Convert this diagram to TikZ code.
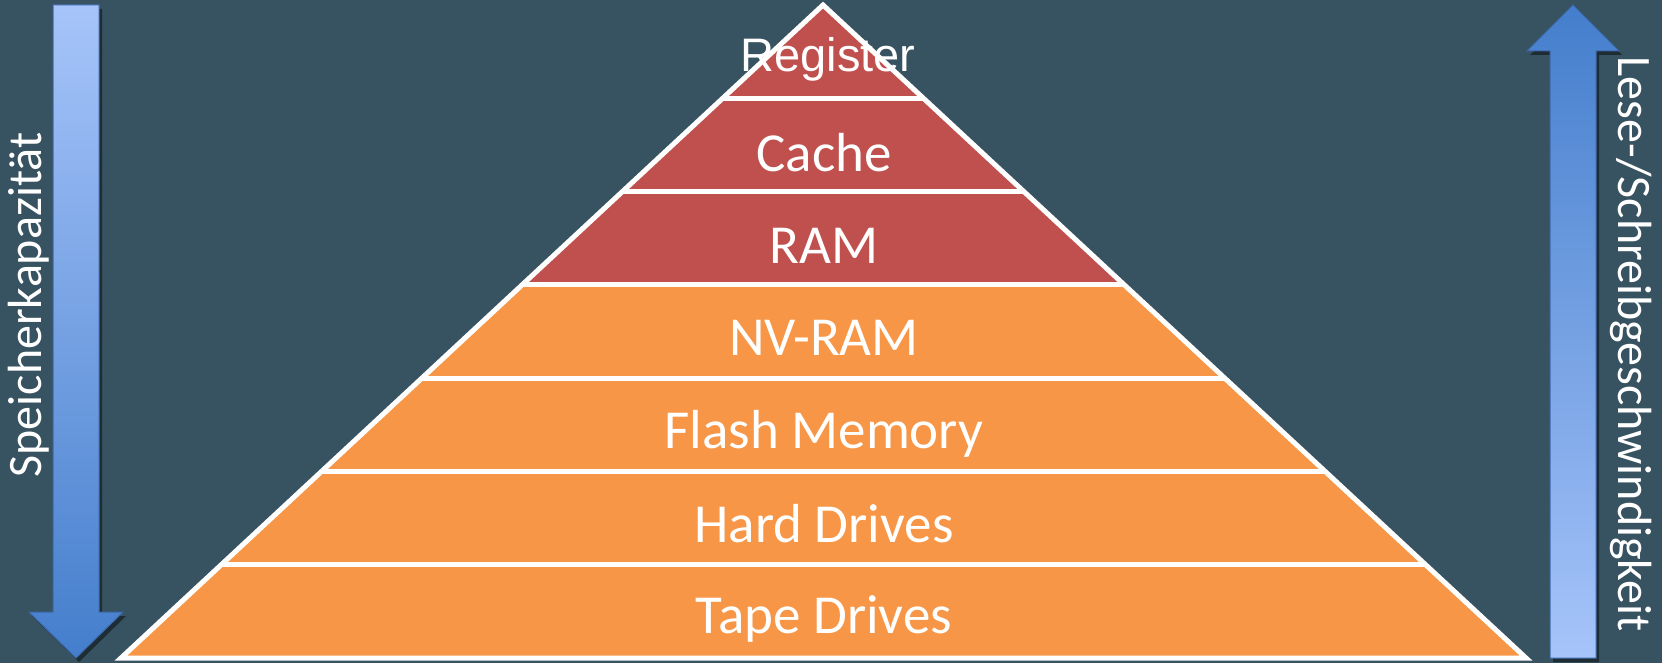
\documentclass[tikz,border=0pt]{standalone}
\usepackage{fontspec}
\setmainfont{Carlito}
\newfontfamily\regfont{Liberation Sans}
\definecolor{bg}{RGB}{55,82,96}
\definecolor{redband}{RGB}{192,80,77}
\definecolor{orgband}{RGB}{247,150,70}
\definecolor{arrowlight}{RGB}{166,196,250}
\definecolor{arrowdark}{RGB}{68,126,204}
\definecolor{arrowedge}{RGB}{62,104,172}
\begin{document}
\begin{tikzpicture}[x=1pt,y=-1pt,
  edge/.style={draw=white,line width=5pt,line join=miter},
  lbl/.style={text=white,font=\fontsize{55}{60}\selectfont,anchor=base,inner sep=0pt},
  side/.style={text=white,font=\fontsize{48}{52}\selectfont,inner sep=0pt},
  arrowbody/.style={draw=arrowedge,line width=1pt},
  arrowshadow/.style={fill=black,opacity=.45}]
\fill[bg] (0,0) rectangle (1662,663);
\useasboundingbox (0,0) rectangle (1662,663);
% bands
\foreach \k/\col in {0/redband,1/redband,2/redband,3/orgband,4/orgband,5/orgband,6/orgband}{
  \pgfmathsetmacro\ya{5+\k*93.2857}
  \pgfmathsetmacro\yb{5+(\k+1)*93.2857}
  \pgfmathsetmacro\wa{(\ya-5)*1.07351}
  \pgfmathsetmacro\wb{(\yb-5)*1.07351}
  \fill[\col] (823-\wa,\ya) -- (823+\wa,\ya) -- (823+\wb,\yb) -- (823-\wb,\yb) -- cycle;
}
% separators
\foreach \k in {1,...,6}{
  \pgfmathsetmacro\ya{5+\k*93.2857}
  \pgfmathsetmacro\wa{(\ya-5)*1.07351}
  \draw[edge] (823-\wa,\ya) -- (823+\wa,\ya);
}
% outline
\draw[edge] (823,5) -- (1526,658) -- (121,658) -- cycle;
% labels
\node[lbl,font=\regfont\fontsize{47}{50}\selectfont] (reg) at (828,72) {Register};
\node[lbl] (cache) at (824,172) {Cache};
\node[lbl] (ram) at (824,263) {RAM};
\node[lbl] (nvram) at (824,355) {NV-RAM};
\node[lbl] (flash) at (824,448) {Flash Memory};
\node[lbl] (hdd) at (824,542) {Hard Drives};
\node[lbl] (tape) at (824,633) {Tape Drives};
% left arrow
\fill[arrowshadow,xshift=3pt,yshift=-4pt] (53,5) -- (99,5) -- (99,612) -- (123,612) -- (76,658) -- (29,612) -- (53,612) -- cycle;
\path[arrowbody,top color=arrowlight,bottom color=arrowdark] (53,5) -- (99,5) -- (99,612) -- (123,612) -- (76,658) -- (29,612) -- (53,612) -- cycle;
% right arrow
\fill[arrowshadow,xshift=3pt,yshift=-4pt] (1573,5) -- (1619,51) -- (1596,51) -- (1596,658) -- (1550,658) -- (1550,51) -- (1527,51) -- cycle;
\path[arrowbody,top color=arrowdark,bottom color=arrowlight] (1573,5) -- (1619,51) -- (1596,51) -- (1596,658) -- (1550,658) -- (1550,51) -- (1527,51) -- cycle;
% side labels
\node[side,rotate=90] (capacity) at (29,305) {Speicherkapazität};
\node[side,rotate=-90] (speed) at (1631,344) {Lese-/Schreibgeschwindigkeit};
\end{tikzpicture}
\end{document}
